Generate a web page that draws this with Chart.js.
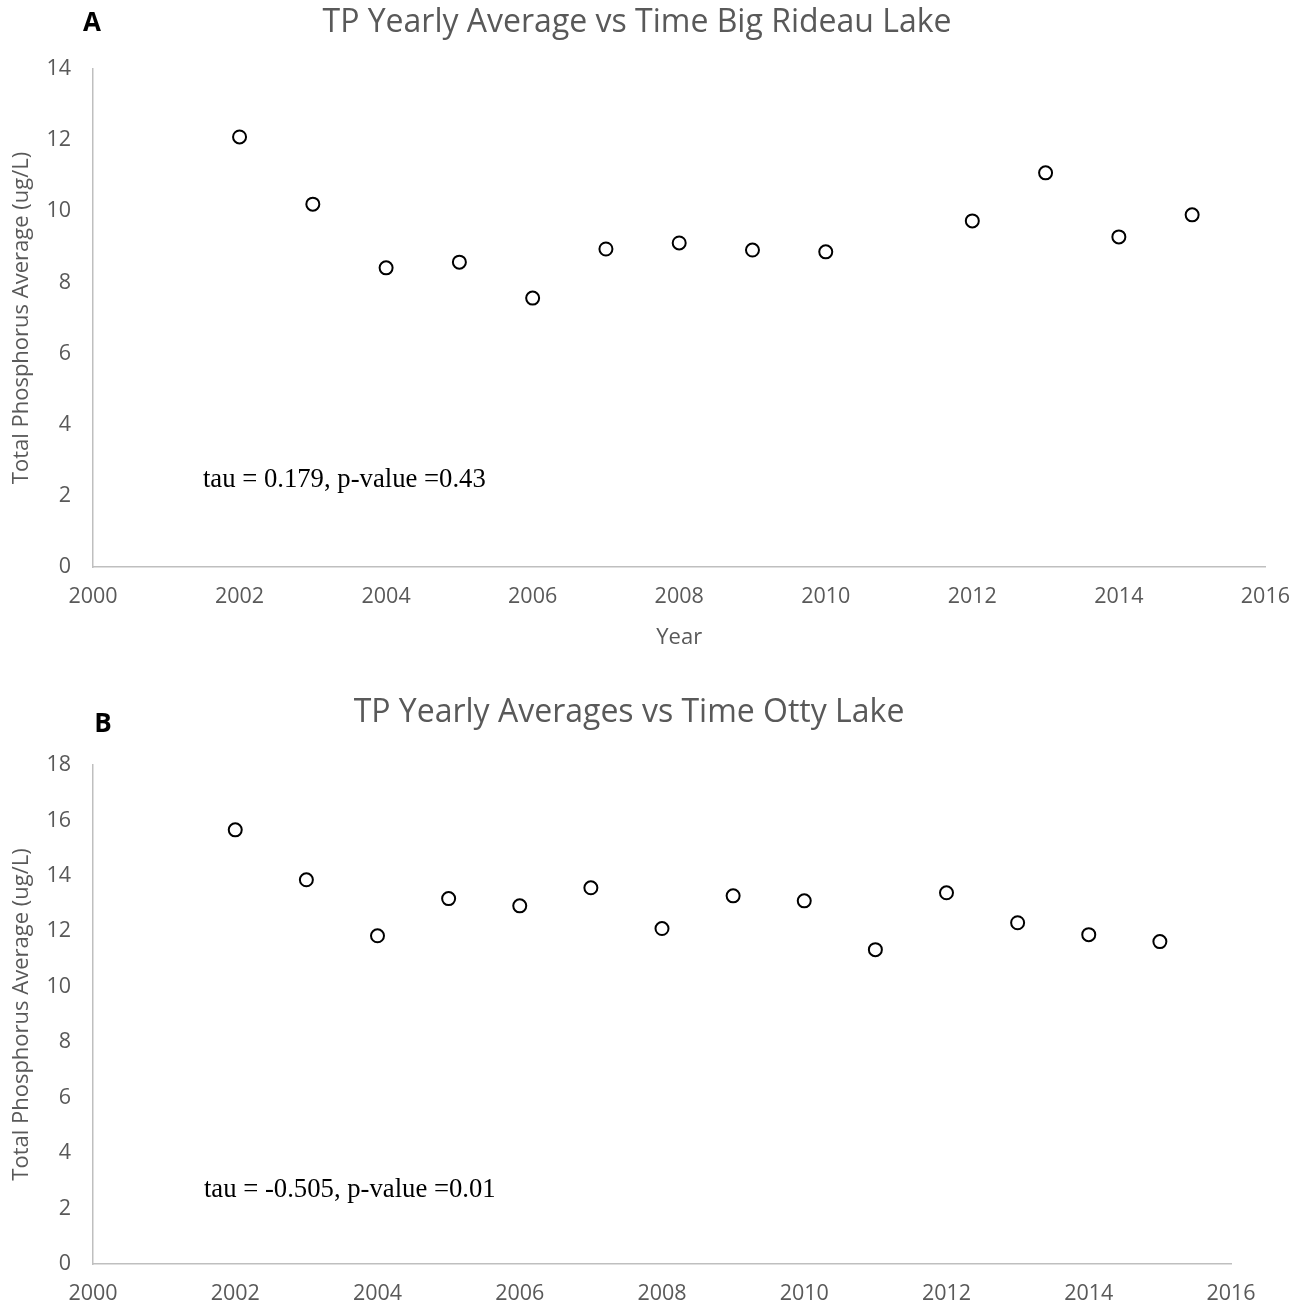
<!DOCTYPE html>
<html>
<head>
<meta charset="utf-8">
<title>TP Yearly Averages</title>
<script src="https://cdn.jsdelivr.net/npm/chart.js@4.4.1/dist/chart.umd.min.js"></script>
<style>
  html, body { margin: 0; padding: 0; background: #fff; }
  #page { position: relative; width: 1307px; height: 1309px; }
  canvas { position: absolute; left: 0; }
  #chartA { top: 0; }
  #chartB { top: 655px; }
</style>
</head>
<body>
<div id="page">
  <canvas id="chartA" width="1307" height="655"></canvas>
  <canvas id="chartB" width="1307" height="654"></canvas>
</div>
<script>
/* ---------- Data ---------- */
const yearsRideau = [2002, 2003, 2004, 2005, 2006, 2007, 2008, 2009, 2010, 2012, 2013, 2014, 2015];
const tpRideau = [12.09, 10.2, 8.41, 8.57, 7.56, 8.94, 9.11, 8.91, 8.86, 9.73, 11.08, 9.28, 9.9];

const yearsOtty = [2002, 2003, 2004, 2005, 2006, 2007, 2008, 2009, 2010, 2011, 2012, 2013, 2014, 2015];
const tpOtty = [15.66, 13.86, 11.84, 13.18, 12.92, 13.57, 12.1, 13.28, 13.1, 11.34, 13.39, 12.31, 11.88, 11.63];

const yearRange = [2000, 2016];
const yearStep = 2;
const tpMaxRideau = 14;
const tpMaxOtty = 18;
const tpStep = 2;

/* ---------- Shared look ---------- */
const GREY_TEXT = '#595959';
const AXIS_LINE = '#bfbfbf';
Chart.defaults.font.family = '"Open Sans", "Noto Sans", sans-serif';

/* Panel letter, chart title and Mann-Kendall note */
const panelText = {
  id: 'panelText',
  afterDraw(chart, args, opts) {
    const { ctx, scales } = chart;
    ctx.save();
    ctx.textBaseline = 'alphabetic';

    ctx.fillStyle = '#000';
    ctx.textAlign = 'center';
    ctx.font = 'bold 26px "Open Sans"';
    ctx.fillText(opts.letter, opts.letterPos[0], opts.letterPos[1]);

    ctx.fillStyle = GREY_TEXT;
    ctx.font = '32px "Open Sans"';
    ctx.fillText(opts.title, opts.titlePos[0], opts.titlePos[1]);

    ctx.fillStyle = '#000';
    ctx.textAlign = 'left';
    ctx.font = '26.7px "Liberation Serif"';
    ctx.fillText(
      opts.note,
      scales.x.getPixelForValue(opts.noteAt[0]),
      scales.y.getPixelForValue(opts.noteAt[1])
    );
    ctx.restore();
  },
};

function makeChart(canvas, o) {
  const points = o.years.map((yr, i) => ({ x: yr, y: o.values[i] }));

  return new Chart(canvas, {
    type: 'scatter',
    data: {
      datasets: [{
        data: points,
        pointStyle: 'circle',
        pointRadius: 6.5,
        pointHoverRadius: 6.5,
        pointBorderWidth: 2,
        borderColor: '#000',
        backgroundColor: '#fff',
      }],
    },
    options: {
      responsive: false,
      animation: false,
      layout: { padding: o.padding },
      plugins: {
        legend: { display: false },
        tooltip: { enabled: false },
        panelText: o.text,
      },
      scales: {
        x: {
          type: 'linear',
          min: yearRange[0],
          max: yearRange[1],
          afterFit: (s) => { s.height = o.xHeight; },
          grid: { display: false, drawTicks: false },
          border: { display: true, color: AXIS_LINE, width: 1.5 },
          ticks: {
            stepSize: yearStep,
            color: GREY_TEXT,
            font: { size: 21.5 },
            padding: 17,
            maxRotation: 0,
            autoSkip: false,
            callback: (v) => String(v),
          },
          title: {
            display: !!o.xTitle,
            text: o.xTitle || '',
            color: GREY_TEXT,
            font: { size: 22 },
            padding: { top: 0, bottom: 4 },
          },
        },
        y: {
          min: 0,
          max: o.yMax,
          afterFit: (s) => { s.width = 93; },
          grid: { display: false, drawTicks: false },
          border: { display: true, color: AXIS_LINE, width: 1.5 },
          ticks: {
            stepSize: tpStep,
            color: GREY_TEXT,
            font: { size: 21.5 },
            padding: 22,
          },
          title: {
            display: true,
            text: 'Total Phosphorus Average (ug/L)',
            color: GREY_TEXT,
            font: { size: 22 },
            padding: { top: 9, bottom: 0 },
          },
        },
      },
    },
    plugins: [panelText],
  });
}

/* ---------- A: Big Rideau Lake ---------- */
makeChart(document.getElementById('chartA'), {
  years: yearsRideau,
  values: tpRideau,
  yMax: tpMaxRideau,
  xTitle: 'Year',
  xHeight: 88,
  padding: { left: 0, right: 39, top: 69, bottom: 0 },
  text: {
    letter: 'A',
    letterPos: [92, 31],
    title: 'TP Yearly Average vs Time Big Rideau Lake',
    titlePos: [637, 32],
    note: 'tau = 0.179, p-value =0.43',
    noteAt: [2001.5, 2.26],
  },
});

/* ---------- B: Otty Lake ---------- */
makeChart(document.getElementById('chartB'), {
  years: yearsOtty,
  values: tpOtty,
  yMax: tpMaxOtty,
  xTitle: null,
  xHeight: 45,
  padding: { left: 0, right: 76, top: 110, bottom: 0 },
  text: {
    letter: 'B',
    letterPos: [103, 77],
    title: 'TP Yearly Averages vs Time Otty Lake',
    titlePos: [629, 67],
    note: 'tau = -0.505, p-value =0.01',
    noteAt: [2001.56, 2.43],
  },
});
</script>
</body>
</html>
